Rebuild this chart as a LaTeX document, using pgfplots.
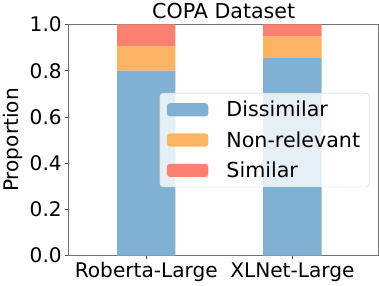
\documentclass[border=0pt]{standalone}
\usepackage{fontspec}
\setmainfont{DejaVu Sans}
\usepackage{pgfplots}
\pgfplotsset{compat=1.18}
\definecolor{cblue}{HTML}{80B1D3}
\definecolor{corange}{HTML}{FDB462}
\definecolor{cred}{HTML}{FB8072}
\pgfplotsset{mylegend/.style={legend image code/.code={\fill[##1, fill opacity=1] (0bp,-6.5bp) rectangle (41bp,6.5bp);}}}
\begin{document}
\begin{tikzpicture}
\begin{axis}[
  scale only axis, width=307bp, height=229bp,
  ybar stacked, bar width=0.4,
  xmin=-0.53, xmax=1.59, ymin=0, ymax=1,
  xtick={0,1}, xticklabels={Roberta-Large, XLNet-Large},
  ytick={0,0.2,0.4,0.6,0.8,1},
  yticklabel style={/pgf/number format/.cd, fixed, fixed zerofill, precision=1},
  /pgf/number format/assume math mode=true,
  ticklabel style={font=\fontsize{20}{24}\selectfont},
  tick align=outside, major tick length=3.5bp,
  xtick pos=bottom, ytick pos=left,
  tick style={black!70, line width=0.6pt},
  axis line style={black!55, line width=0.7pt},
  title={COPA Dataset}, title style={font=\fontsize{20.5}{24}\selectfont, yshift=-4bp},
  ylabel={Proportion}, ylabel style={font=\fontsize{20}{24}\selectfont},
  legend cell align=left,
  legend style={at={(0.97,0.5)}, anchor=east, font=\fontsize{20.5}{24}\selectfont,
    fill=white, fill opacity=0.8, text opacity=1, draw=black!20, rounded corners=3bp,
    row sep=9bp, inner xsep=7bp, inner ysep=6bp,
    /tikz/every odd column/.append style={column sep=16bp}},
]
\addplot[draw=none, fill=cblue, mylegend] coordinates {(0,0.80) (1,0.855)};
\addlegendentry{Dissimilar}
\addplot[draw=none, fill=corange, mylegend] coordinates {(0,0.108) (1,0.093)};
\addlegendentry{Non-relevant}
\addplot[draw=none, fill=cred, mylegend] coordinates {(0,0.092) (1,0.052)};
\addlegendentry{Similar}
\end{axis}
\end{tikzpicture}
\end{document}
